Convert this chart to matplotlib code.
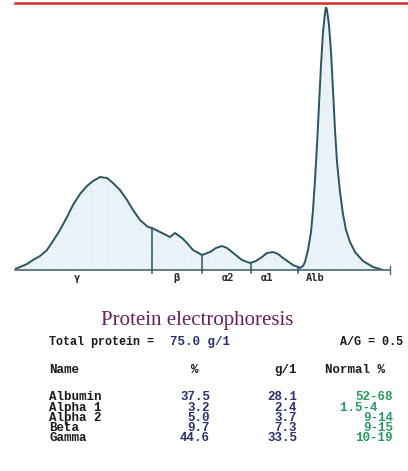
import numpy as np
import matplotlib
matplotlib.use("Agg")
import matplotlib.pyplot as plt
from matplotlib.lines import Line2D

# densitometry trace (position along strip, height)
pos = [0, 5, 12, 18, 25, 32, 38, 45, 52, 58, 65, 72, 78, 85, 92, 98, 105,
       112, 118, 125, 133, 137, 145, 155, 160, 167, 172, 178, 187, 195, 201,
       207, 212, 217, 227, 235, 241, 247, 252, 258, 263, 268, 278, 283, 285,
       288, 290, 293, 296, 298, 300, 302, 304, 306, 308, 310, 311, 312, 314,
       316, 318, 320, 322, 325, 328, 331, 335, 340, 348, 358, 368]
height = [1, 3, 6, 10, 14, 20, 29, 40, 53, 65, 76, 84, 89, 93, 92, 87, 80,
          70, 60, 50, 43, 42, 38, 33, 37, 32, 27, 20, 15, 18, 22,
          24, 22, 18, 10, 7, 9, 13, 17, 18, 16, 12, 5, 3, 2,
          4, 8, 20, 38, 60, 90, 125, 165, 205, 238, 257, 263, 260, 245,
          218, 180, 140, 108, 78, 56, 40, 28, 18, 9, 3, 0]

bounds = [137, 187, 236, 283]
frac_labels = ["γ", "β", "α2", "α1", "Alb"]
frac_label_pos = [62, 161, 213, 252, 300]

total_protein = "75.0 g/1"
ag_ratio = "0.5"
names = ["Albumin", "Alpha 1", "Alpha 2", "Beta", "Gamma"]
pct = ["37.5", "3.2", "5.0", "9.7", "44.6"]
gl = ["28.1", "2.4", "3.7", "7.3", "33.5"]
normal = ["52-68", "1.5-4  ", "9-14", "9-15", "10-19"]

W, H = 408, 471
fig = plt.figure(figsize=(W / 100, H / 100), dpi=100)
fig.patch.set_facecolor("white")

# red rule at the top
fig.add_artist(Line2D([15 / W, 1], [1 - 3 / H, 1 - 3 / H], color="#d42a2a", lw=1.8))

ax = fig.add_axes([15 / W, 1 - 270 / H, 375 / W, 263 / H])
ax.set_xlim(0, 375)
ax.set_ylim(0, 263)
ax.axis("off")

line_col = "#2a5565"
plt.rcParams["hatch.linewidth"] = 0.3
ax.fill_between(pos, 0, height, facecolor="#e8f3fa", edgecolor="#f4dce2", hatch="+", lw=0)
ax.plot(pos, height, color=line_col, lw=1.4, solid_joinstyle="round")
ax.plot([0, 375], [0, 0], color="#4a6a76", lw=1.2, clip_on=False)
ax.plot([375, 375], [-4, 4], color="#4a6a76", lw=1, clip_on=False)
for b in bounds:
    ax.plot([b, b], [-3, np.interp(b, pos, height)], color=line_col, lw=1.1, clip_on=False)
for lab, x in zip(frac_labels, frac_label_pos):
    ax.text(x, -8, lab, ha="center", va="center", fontsize=7.5, fontweight="bold",
            family="DejaVu Sans Mono", color="#222a30")


def ftext(x, y, s, **kw):
    fig.text(x / W, 1 - y / H, s, **kw)


ftext(197, 321, "Protein electrophoresis", ha="center", va="center",
      family="Liberation Serif", fontsize=15, color="#6a1f5f")

mono = dict(family="Liberation Mono", fontweight="bold")
ftext(49, 342, "Total protein =", ha="left", va="center", fontsize=8.5, color="#1a1a1a", **mono)
ftext(170, 342, total_protein, ha="left", va="center", fontsize=9, color="#2a3070", **mono)
ftext(340, 342, "A/G = " + ag_ratio, ha="left", va="center", fontsize=8.5, color="#1a1a1a", **mono)

ftext(49, 370, "Name", ha="left", va="center", fontsize=9, color="#1a1a1a", **mono)
ftext(195, 370, "%", ha="center", va="center", fontsize=9, color="#1a1a1a", **mono)
ftext(297, 370, "g/1", ha="right", va="center", fontsize=9, color="#1a1a1a", **mono)
ftext(325, 370, "Normal %", ha="left", va="center", fontsize=9, color="#1a1a1a", **mono)

# table body, one block of lines per column
col = dict(va="top", fontsize=9, linespacing=0.78, **mono)
ftext(49, 391.5, "\n".join(names), ha="left", multialignment="left", color="#1a1a1a", **col)
ftext(210, 391.5, "\n".join(pct), ha="right", multialignment="right", color="#2a3070", **col)
ftext(297, 391.5, "\n".join(gl), ha="right", multialignment="right", color="#2a3070", **col)
ftext(393, 391.5, "\n".join(normal), ha="right", multialignment="right", color="#2a9a60", **col)

fig.savefig("out.png", dpi=100)
